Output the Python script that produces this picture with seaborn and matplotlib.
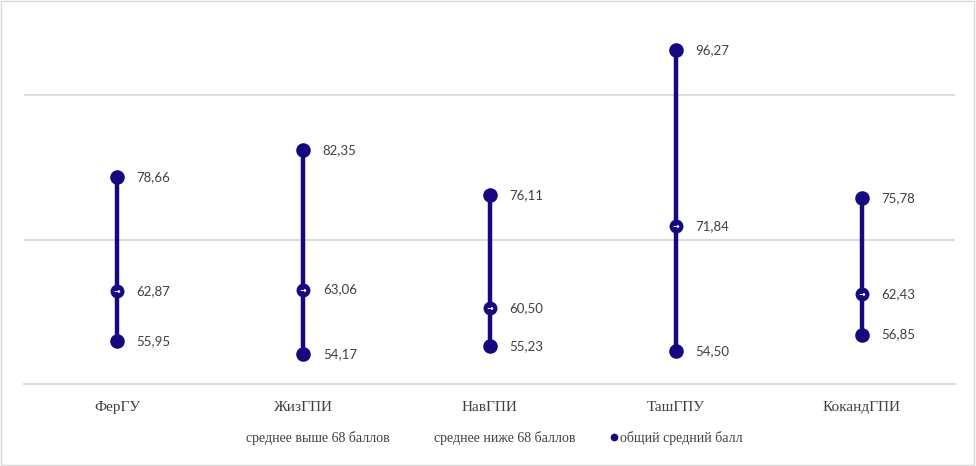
import seaborn as sns
import pandas as pd
import matplotlib.pyplot as plt
from matplotlib.lines import Line2D
from matplotlib.patches import Rectangle

# values
universities = ["ФерГУ", "ЖизГПИ", "НавГПИ", "ТашГПУ", "КокандГПИ"]
high_scores = [78.66, 82.35, 76.11, 96.27, 75.78]
mean_scores = [62.87, 63.06, 60.50, 71.84, 62.43]
low_scores = [55.95, 54.17, 55.23, 54.50, 56.85]

legend_labels = ["среднее выше 68 баллов", "среднее ниже 68 баллов", "общий средний балл"]

navy = "#16087e"
grid_col = "#d9d9d9"
serif = ["Liberation Serif", "DejaVu Serif"]

df = pd.DataFrame({"vuz": universities, "high": high_scores,
                   "mean": mean_scores, "low": low_scores})
ends = df.melt(id_vars="vuz", value_vars=["high", "low"], var_name="kind", value_name="score")

sns.set_style("white")
fig = plt.figure(figsize=(9.76, 4.66), dpi=100)
ax = fig.add_axes([0.0246, 0.176, 0.954, 0.775])

# high-low bars
ax.vlines(df["vuz"], df["low"], df["high"], color=navy, linewidth=3.2, zorder=2)
sns.scatterplot(data=ends, x="vuz", y="score", color=navy, s=110, linewidth=0,
                ax=ax, zorder=3, legend=False)
sns.scatterplot(data=df, x="vuz", y="mean", color=navy, s=100, linewidth=0,
                ax=ax, zorder=4, legend=False)
ax.scatter(df["vuz"], df["mean"], marker=r"$\rightarrow$", color="white", s=14, zorder=5,
           linewidths=0.3)

# data labels
for i, row in df.iterrows():
    for col in ["high", "mean", "low"]:
        ax.annotate(f"{row[col]:.2f}".replace(".", ","), (i, row[col]),
                    xytext=(14, 0), textcoords="offset points", va="center",
                    ha="left", fontsize=9.5, color="#404040", family="Lato")

ax.set_ylim(50, 100)
ax.set_xlim(-0.5, 4.5)
ax.set_yticks([50, 70, 90])
ax.yaxis.grid(True, color=grid_col, linewidth=1.3)
ax.tick_params(axis="y", left=False, labelleft=False)
ax.set_xticks([x - 0.5 for x in range(6)], minor=True)
ax.tick_params(axis="x", which="major", length=0, pad=12, labelsize=11, labelcolor="#404040")
ax.tick_params(axis="x", which="minor", length=5, color=grid_col, width=1.3, direction="out")
ax.set_xticks(range(len(universities)))
ax.set_xticklabels(universities, family=serif, fontsize=11, color="#404040")
for side in ["top", "left", "right"]:
    ax.spines[side].set_visible(False)
ax.spines["bottom"].set_color(grid_col)
ax.spines["bottom"].set_linewidth(1.3)
ax.set_xlabel("")
ax.set_ylabel("")

handles = [Line2D([], [], linestyle="none"),
           Line2D([], [], linestyle="none"),
           Line2D([], [], linestyle="none", marker="o", color=navy, markersize=4.5,
                  markerfacecolor=navy)]
ax.legend(handles, legend_labels, loc="center", bbox_to_anchor=(0.5, -0.15), ncol=3,
          frameon=False, handlelength=0.5, handletextpad=0.2, columnspacing=2.5,
          prop={"family": serif, "size": 10}, labelcolor="#404040")

fig.patches.append(Rectangle((0.001, 0.002), 0.997, 0.995, transform=fig.transFigure,
                             fill=False, edgecolor="#d9d9d9", linewidth=1))

fig.savefig("out.png", dpi=100)
